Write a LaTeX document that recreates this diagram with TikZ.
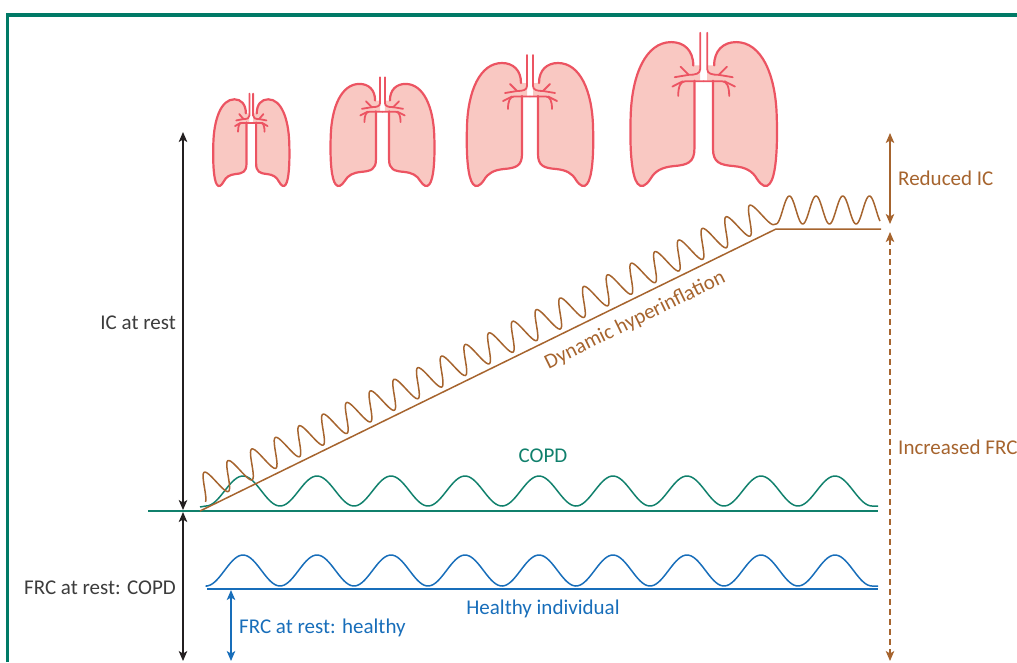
\documentclass[tikz,border=0pt]{standalone}
\usepackage{fontspec}
\setmainfont{Carlito}
\usetikzlibrary{arrows.meta}

\definecolor{frameteal}{RGB}{0,122,102}
\definecolor{copdteal}{RGB}{16,128,108}
\definecolor{healthyblue}{RGB}{24,110,186}
\definecolor{dhbrown}{RGB}{166,100,46}
\definecolor{arrowblack}{RGB}{35,31,32}
\definecolor{labelgrey}{RGB}{60,60,60}
\definecolor{lungred}{RGB}{236,84,98}
\definecolor{lungpink}{RGB}{249,200,194}

\tikzset{
    lbl/.style={inner sep=0pt, font=\fontsize{21}{25}\selectfont},
    twoway/.style={{Stealth[length=10pt,width=8.5pt,inset=2.5pt]}-{Stealth[length=10pt,width=8.5pt,inset=2.5pt]}, line width=1.3pt},
    wave/.style={line width=1.5pt, line join=round},
    lungline/.style={lungred, line width=2.2pt, line cap=round, line join=round},
    bronchus/.style={lungred, line width=1.8pt, line cap=round},
    lungs/.pic={
        \foreach \side in {1,-1} {
            \begin{scope}[xscale=\side]
                \fill [lungpink] (-3,-90) -- (-8,-90) -- (-8,-32) .. controls (-8,-20) and (-14,-18) .. (-26,-17) .. controls (-36,-16) and (-42,-13) .. (-46,-6) .. controls (-50,0) and (-54,2) .. (-57,-2) .. controls (-62,-8) and (-64,-30) .. (-63,-60) .. controls (-62,-95) and (-50,-123) .. (-28,-123) .. controls (-17,-123) and (-9,-116) .. (-9,-103) -- (-3,-103) -- cycle;
                \draw [lungline] (-8,-90) -- (-8,-32) .. controls (-8,-20) and (-14,-18) .. (-26,-17) .. controls (-36,-16) and (-42,-13) .. (-46,-6) .. controls (-50,0) and (-54,2) .. (-57,-2) .. controls (-62,-8) and (-64,-30) .. (-63,-60) .. controls (-62,-95) and (-50,-123) .. (-28,-123) .. controls (-17,-123) and (-9,-116) .. (-9,-103);
                \draw [bronchus] (-3,-131) -- (-3,-100) .. controls (-3,-96) and (-7,-95) .. (-13,-95) -- (-20,-102);
                \draw [bronchus] (-13,-95) -- (-25,-93);
                \draw [bronchus] (0,-89.5) -- (-16,-89.5) .. controls (-20,-89.5) and (-22,-85) .. (-22,-77);
                \draw [bronchus] (-18,-89.5) -- (-27,-85);
            \end{scope}
        }
    }
}

\begin{document}
\begin{tikzpicture}[x=1pt, y=-1pt]
                \useasboundingbox (0,0) rectangle (1017,662);

                \draw [frameteal, line width=3.4pt] (7.5,662) -- (7.5,15) -- (1017,15);

                \pic [xscale=0.603, yscale=0.705] at (251.3,186) {lungs};
                \pic [xscale=0.822, yscale=0.83] at (382.5,186) {lungs};
                \pic at (530,186) {lungs};
                \pic [xscale=1.159, yscale=1.17] at (703.7,186) {lungs};

                \coordinate (ic top) at (183,132);
                \coordinate (ic bot) at (183,510);
                \coordinate (frc top) at (183,512);
                \coordinate (frc bot) at (183,661);
                \coordinate (hl top) at (231,590);
                \coordinate (hl bot) at (231,661);
                \coordinate (ric top) at (890,133);
                \coordinate (ric bot) at (890,224);
                \coordinate (ifrc top) at (890,232);
                \coordinate (ifrc bot) at (890,661);
                \coordinate (dh start) at (200,511);
                \coordinate (dh knee) at (776,229);
                \coordinate (dh end) at (881,229);

                \draw [copdteal, line width=1.8pt] (148,511) -- (878,511);
                \draw [healthyblue, line width=1.8pt] (207,589) -- (878,589);

                \draw [wave, copdteal] (200,507) -- plot [domain=206:872, samples=300] (\x, {491-15*cos(4.8649*(\x-243))}) -- (878,506);
                \draw [wave, healthyblue] (207,586) -- plot [domain=206:872, samples=300] (\x, {570.5-15.5*cos(4.8649*(\x-243))}) -- (878,586);

                \draw [dhbrown, line width=1.5pt] (dh start) to (dh knee) to (dh end);
                \draw [wave, dhbrown] plot [domain=9:641.3, samples=500] ({200+0.8982*\x-0.4397*(19-14*cos(13.636*(\x-641.3)))}, {511-0.4397*\x-0.8982*(19-14*cos(13.636*(\x-641.3)))}) -- plot [domain=0:104, samples=120] ({776+\x}, {229-(19-14*cos(13.483*\x))});
                \path (dh start) -- (dh knee) node [lbl, dhbrown, pos=0.74, sloped, anchor=north, inner sep=11pt] (dh label) {Dynamic hyperinflation};

                \draw [twoway, arrowblack] (ic top) to (ic bot);
                \draw [twoway, arrowblack] (frc top) to (frc bot);
                \draw [twoway, healthyblue] (hl top) to (hl bot);
                \draw [twoway, dhbrown] (ric top) to (ric bot);
                \draw [twoway, dhbrown, dash pattern=on 6pt off 4pt] (ifrc top) to (ifrc bot);

                \node [lbl, labelgrey, anchor=base east] (ic rest) at (176,329) {IC at rest};
                \node [lbl, labelgrey, anchor=base east] (frc copd) at (176,594) {FRC at rest: COPD};
                \node [lbl, healthyblue, anchor=base west] (frc healthy) at (239,633) {FRC at rest: healthy};
                \node [lbl, healthyblue, anchor=base] (healthy) at (543,614) {Healthy individual};
                \node [lbl, copdteal, anchor=base] (copd) at (543,462) {COPD};
                \node [lbl, dhbrown, anchor=base west] (reduced ic) at (898,185) {Reduced IC};
                \node [lbl, dhbrown, anchor=base west] (increased frc) at (898,454) {Increased FRC};
\end{tikzpicture}
\end{document}
